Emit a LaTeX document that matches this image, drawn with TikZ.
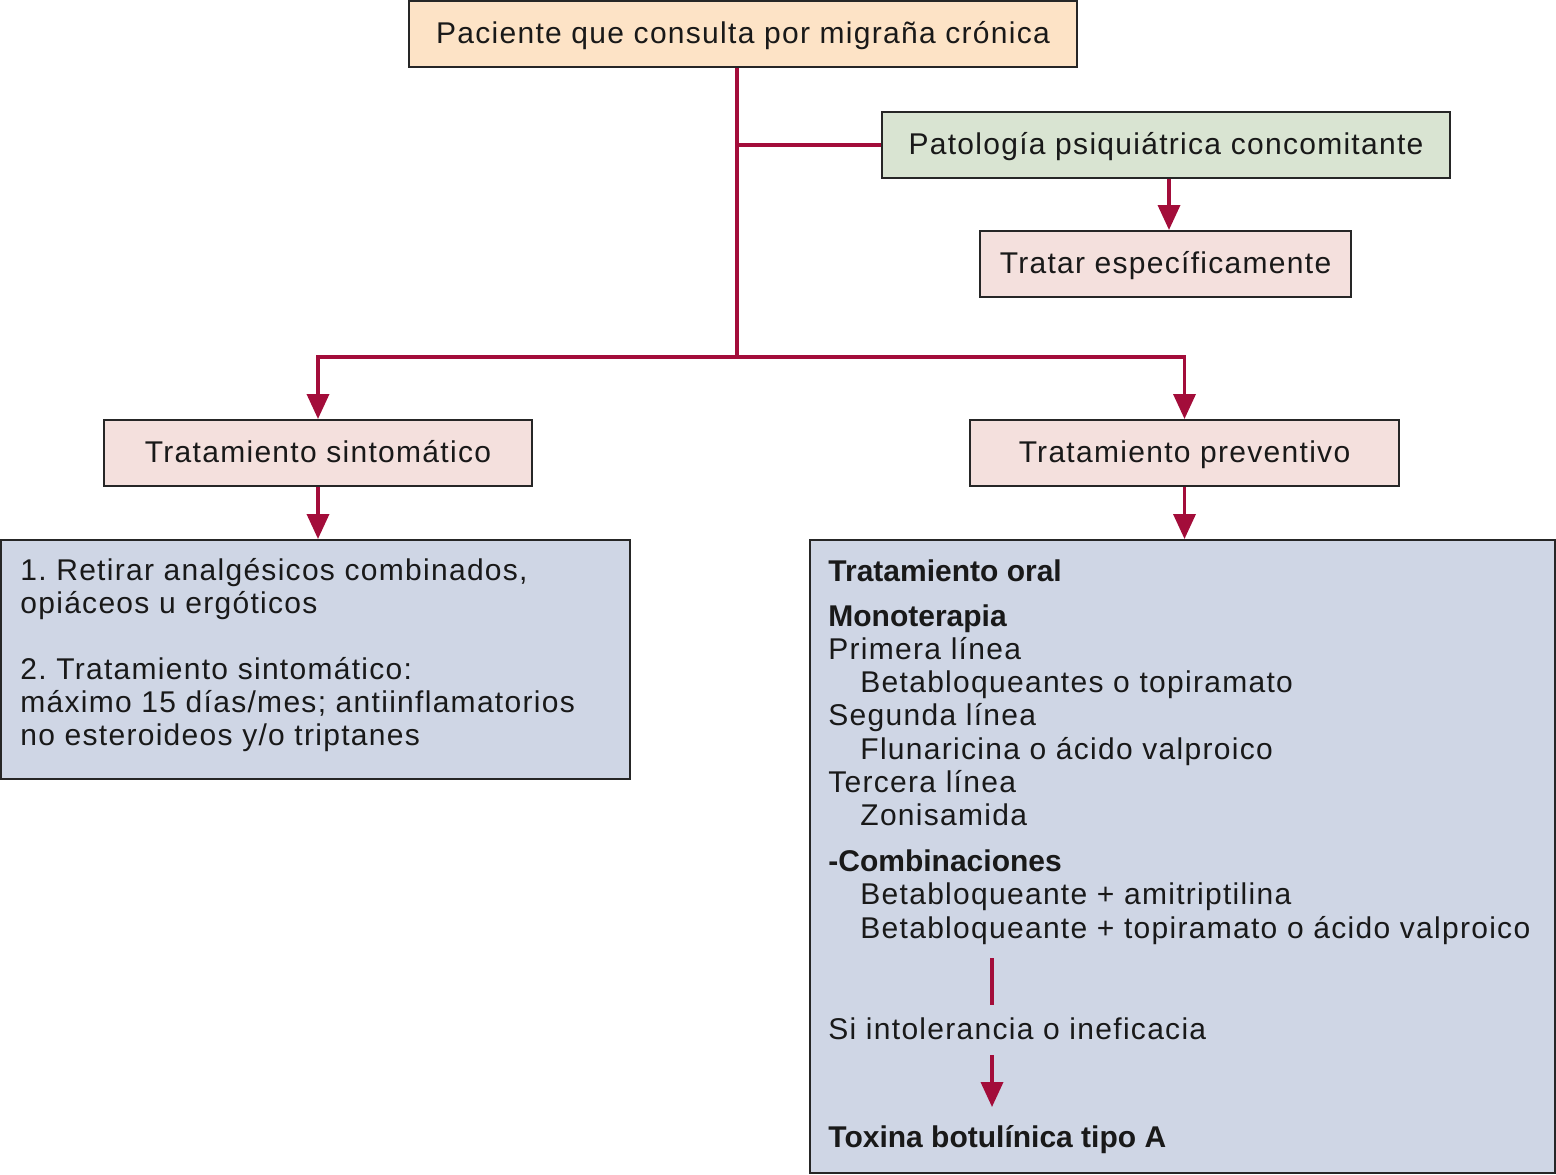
\documentclass[tikz,border=0pt]{standalone}
\usepackage{fontspec}
\setmainfont{Liberation Sans}[LetterSpace=4.3,BoldFeatures={LetterSpace=0}]
\usetikzlibrary{arrows.meta}
\frenchspacing
\definecolor{peach}{HTML}{FDE3C6}
\definecolor{sage}{HTML}{D9E4D2}
\definecolor{rose}{HTML}{F4E0DD}
\definecolor{slate}{HTML}{CFD6E5}
\definecolor{wine}{HTML}{A30D3A}
\tikzset{
  box/.style={draw=black!85, line width=1pt, inner sep=0pt, text=black!90, text height=11pt, text depth=2pt},
  link/.style={draw=wine, line width=1.8pt},
  arr/.style={link, -{Triangle[width=11pt,length=12.5pt]}},
  txt/.style={anchor=base west, inner sep=0pt, text=black!90},
  bold/.style={txt, font=\fontsize{15}{16.75}\selectfont\bfseries}
}
\begin{document}
\begin{tikzpicture}[x=0.5pt,y=-0.5pt,font=\fontsize{15}{16.75}\selectfont]
\useasboundingbox (0,0) rectangle (1556,1174);
% boxes
\node[box, fill=peach, minimum width=334pt, minimum height=33pt] (top) at (743,34) {Paciente que consulta por migraña crónica};
\node[box, fill=sage, minimum width=284pt, minimum height=33pt] (psi) at (1166,145) {Patología psiquiátrica concomitante};
\node[box, fill=rose, minimum width=185.5pt, minimum height=33pt] (tratar) at (1165.5,264) {Tratar específicamente};
\node[box, fill=rose, minimum width=214pt, minimum height=33pt] (sint) at (318,453) {Tratamiento sintomático};
\node[box, fill=rose, minimum width=214.5pt, minimum height=33pt] (prev) at (1184.5,453) {Tratamiento preventivo};
\node[box, fill=slate, minimum width=314.5pt, minimum height=119.5pt, text height=0pt, text depth=0pt] (lbox) at (315.5,659.5) {};
\node[box, fill=slate, minimum width=372.5pt, minimum height=316.5pt, text height=0pt, text depth=0pt] (rbox) at (1182.5,856.5) {};
% left box text
\node[txt] (l1) at (20,580) {1. Retirar analgésicos combinados,};
\node[txt] (l2) at (20,613) {opiáceos u ergóticos};
\node[txt] (l3) at (20,679) {2. Tratamiento sintomático:};
\node[txt] (l4) at (20,712) {máximo 15 días/mes; antiinflamatorios};
\node[txt] (l5) at (20,745) {no esteroideos y/o triptanes};
% right box text
\node[bold] (r1) at (828,581) {Tratamiento oral};
\node[bold] (r2) at (828,626) {Monoterapia};
\node[txt] (r3) at (828,659) {Primera línea};
\node[txt] (r4) at (860,692) {Betabloqueantes o topiramato};
\node[txt] (r5) at (828,725) {Segunda línea};
\node[txt] (r6) at (860,759) {Flunaricina o ácido valproico};
\node[txt] (r7) at (828,792) {Tercera línea};
\node[txt] (r8) at (860,825) {Zonisamida};
\node[bold] (r9) at (828,871) {-Combinaciones};
\node[txt] (r10) at (860,904) {Betabloqueante + amitriptilina};
\node[txt] (r11) at (860,938) {Betabloqueante + topiramato o ácido valproico};
\node[txt] (r12) at (828,1039) {Si intolerancia o ineficacia};
\node[bold] (r13) at (828,1147) {Toxina botulínica tipo A};
% connectors
\coordinate (j1) at (737,145);
\coordinate (j2) at (737,357);
\coordinate (a1) at (992,958);
\coordinate (a2) at (992,1005);
\coordinate (a3) at (992,1055);
\coordinate (a4) at (992,1107);
\draw[link] (top.south -| j1) -- (j2);
\draw[link] (j1) -- (psi.west);
\draw[arr] (psi.south -| 1169,0) -- (tratar.north -| 1169,0);
\draw[arr] (j2) -| (sint.north);
\draw[arr] (j2) -| (prev.north);
\draw[arr] (sint.south) -- (sint.south |- lbox.north);
\draw[arr] (prev.south) -- (prev.south |- rbox.north);
\draw[link] (a1) -- (a2);
\draw[arr] (a3) -- (a4);
\end{tikzpicture}
\end{document}
